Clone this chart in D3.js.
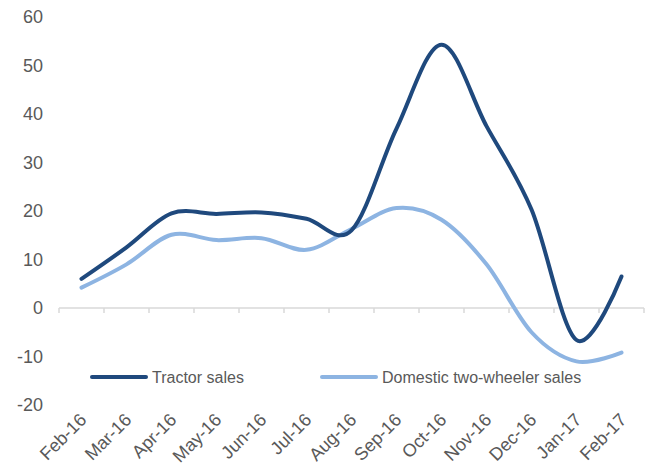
<!DOCTYPE html>
<html>
<head>
<meta charset="utf-8">
<script src="https://cdn.jsdelivr.net/npm/d3@7"></script>
<style>
  body { margin: 0; background: #fff; }
  text { font-family: "Liberation Sans", Arial, sans-serif; fill: #595959; }
</style>
</head>
<body>
<svg id="chart" width="649" height="470"></svg>
<script>
// data
var months = ["Feb-16", "Mar-16", "Apr-16", "May-16", "Jun-16", "Jul-16", "Aug-16",
              "Sep-16", "Oct-16", "Nov-16", "Dec-16", "Jan-17", "Feb-17"];
var tractor = [6, 12.5, 19.5, 19.4, 19.7, 18.4, 16, 37, 54.3, 37.5, 20.3, -6.6, 6.5];
var twoWheeler = [4.2, 9, 15.1, 14, 14.4, 12, 16.3, 20.6, 18.2, 9, -5, -11, -9.2];
var yTicks = [-20, -10, 0, 10, 20, 30, 40, 50, 60];

var series = [
  { name: "Tractor sales", values: tractor, color: "#1f497d" },
  { name: "Domestic two-wheeler sales", values: twoWheeler, color: "#8db4e2" }
];

var svg = d3.select("#chart");

var x = d3.scaleBand().domain(months).range([59, 644]);
var y = d3.scaleLinear().domain([-20, 60]).range([405, 17]);

// y labels, no axis line
svg.append("g").selectAll("text")
  .data(yTicks)
  .enter().append("text")
  .attr("x", 43)
  .attr("y", function(d) { return y(d); })
  .attr("dy", "0.35em")
  .attr("text-anchor", "end")
  .style("font-size", "18px")
  .text(function(d) { return d; });

// x axis on zero line
var xAxis = svg.append("g")
  .attr("transform", "translate(0," + y(0) + ")");
xAxis.append("line")
  .attr("x1", 59).attr("x2", 644)
  .attr("stroke", "#d9d9d9").attr("stroke-width", 1.5);
xAxis.selectAll(".tk")
  .data(months.concat(["_end"]))
  .enter().append("line")
  .attr("x1", function(d, i) { return i < months.length ? x(d) : 644; })
  .attr("x2", function(d, i) { return i < months.length ? x(d) : 644; })
  .attr("y1", 0).attr("y2", 5)
  .attr("stroke", "#d9d9d9").attr("stroke-width", 1.5);

// rotated month labels at bottom
svg.append("g").selectAll("text")
  .data(months)
  .enter().append("text")
  .attr("transform", function(d) {
    return "translate(" + (x(d) + x.bandwidth() / 2 + 6) + ",421) rotate(-45)";
  })
  .attr("text-anchor", "end")
  .style("font-size", "18px")
  .text(function(d) { return d; });

var line = d3.line()
  .x(function(d, i) { return x(months[i]) + x.bandwidth() / 2; })
  .y(function(d) { return y(d); })
  .curve(d3.curveCatmullRom.alpha(0));

// light line drawn first, dark on top
svg.selectAll(".series")
  .data(series.slice().reverse())
  .enter().append("path")
  .attr("d", function(s) { return line(s.values); })
  .attr("fill", "none")
  .attr("stroke", function(s) { return s.color; })
  .attr("stroke-width", 4)
  .attr("stroke-linecap", "round");

// legend
var legX = [92, 322];
var leg = svg.append("g").selectAll("g")
  .data(series)
  .enter().append("g")
  .attr("transform", function(d, i) { return "translate(" + legX[i] + ",377)"; });
leg.append("line")
  .attr("x1", 0).attr("x2", 54)
  .attr("stroke", function(d) { return d.color; })
  .attr("stroke-width", 4)
  .attr("stroke-linecap", "round");
leg.append("text")
  .attr("x", 60)
  .attr("dy", "0.35em")
  .style("font-size", "16px")
  .text(function(d) { return d.name; });
</script>
</body>
</html>
